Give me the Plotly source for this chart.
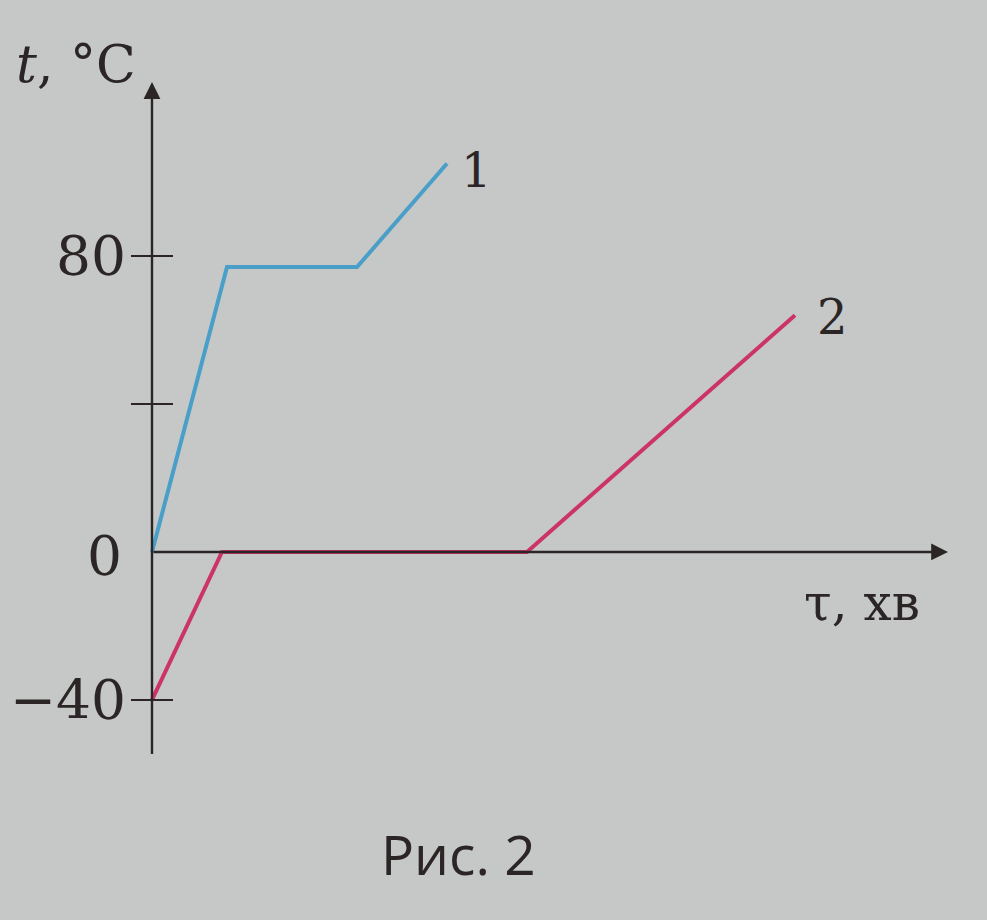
import plotly.graph_objects as go

# Data (time in arbitrary units, temperature in °C)
tau_1 = [0, 7.5, 20.5, 29.5]
temp_1 = [0, 77, 77, 105]
tau_2 = [0, 7.0, 37.5, 64.3]
temp_2 = [-40, 0, 0, 64]

tick_vals = [80, 40, -40]
label_vals = [80, 0, -40]
label_text = ["80", "0", "−40"]

BG = "#c5c8c7"
INK = "#2b2526"
BLUE = "#4a9fc9"
PINK = "#cc3469"
SERIF = "DejaVu Serif, Liberation Serif, serif"

fig = go.Figure()

fig.add_trace(go.Scatter(x=tau_1, y=temp_1, mode="lines",
                         line=dict(color=BLUE, width=4), showlegend=False))
fig.add_trace(go.Scatter(x=tau_2, y=temp_2, mode="lines",
                         line=dict(color=PINK, width=4), showlegend=False))

# tick marks crossing the y axis
fig.add_trace(go.Scatter(x=[0] * len(tick_vals), y=tick_vals, mode="markers",
                         marker=dict(symbol="line-ew-open", size=30, color=INK,
                                     line=dict(color=INK, width=2)),
                         showlegend=False, cliponaxis=False))

# axes with arrowheads
fig.add_annotation(x=79.6, y=0, ax=0, ay=0, axref="x", ayref="y",
                   xref="x", yref="y", showarrow=True, arrowhead=2,
                   arrowsize=1.4, arrowwidth=2.4, arrowcolor=INK, text="")
fig.add_annotation(x=0, y=127, ax=0, ay=-55, axref="x", ayref="y",
                   xref="x", yref="y", showarrow=True, arrowhead=2,
                   arrowsize=1.4, arrowwidth=2.4, arrowcolor=INK, text="")

for v, t in zip(label_vals, label_text):
    fig.add_annotation(x=0, y=v, xref="x", yref="y", text=t, showarrow=False,
                       xanchor="right", yanchor="middle",
                       xshift=-24 if v != 0 else -28, yshift=0 if v != 0 else -4,
                       font=dict(family=SERIF, size=55, color=INK))

fig.add_annotation(x=tau_1[-1], y=temp_1[-1], xref="x", yref="y", text="1",
                   showarrow=False, xanchor="left", yanchor="middle",
                   xshift=12, yshift=-6, font=dict(family=SERIF, size=48, color=INK))
fig.add_annotation(x=tau_2[-1], y=temp_2[-1], xref="x", yref="y", text="2",
                   showarrow=False, xanchor="left", yanchor="middle",
                   xshift=20, yshift=-2, font=dict(family=SERIF, size=48, color=INK))

fig.add_annotation(x=0, y=127, xref="x", yref="y", text="<i>t</i>, °C",
                   showarrow=False, xanchor="right", yanchor="bottom",
                   xshift=-14, yshift=-14, font=dict(family=SERIF, size=52, color=INK))
fig.add_annotation(x=79.6, y=0, xref="x", yref="y", text="τ, хв",
                   showarrow=False, xanchor="right", yanchor="top",
                   xshift=-26, yshift=-20, font=dict(family=SERIF, size=50, color=INK))

fig.add_annotation(x=0.465, y=0.072, xref="paper", yref="paper", text="Рис. 2",
                   showarrow=False, xanchor="center", yanchor="middle",
                   font=dict(family="Open Sans, Noto Sans, sans-serif", size=55, color=INK))

fig.update_layout(
    width=987, height=920, autosize=False,
    margin=dict(l=0, r=0, t=0, b=0),
    paper_bgcolor=BG, plot_bgcolor=BG,
    xaxis=dict(range=[-15.2, 83.5], visible=False, fixedrange=True),
    yaxis=dict(range=[-99.5, 149.2], visible=False, fixedrange=True),
)

fig.write_html("out.html", config={"displayModeBar": False},
               post_script="document.body.style.margin='0';"
                           "document.body.style.background='" + BG + "';")
